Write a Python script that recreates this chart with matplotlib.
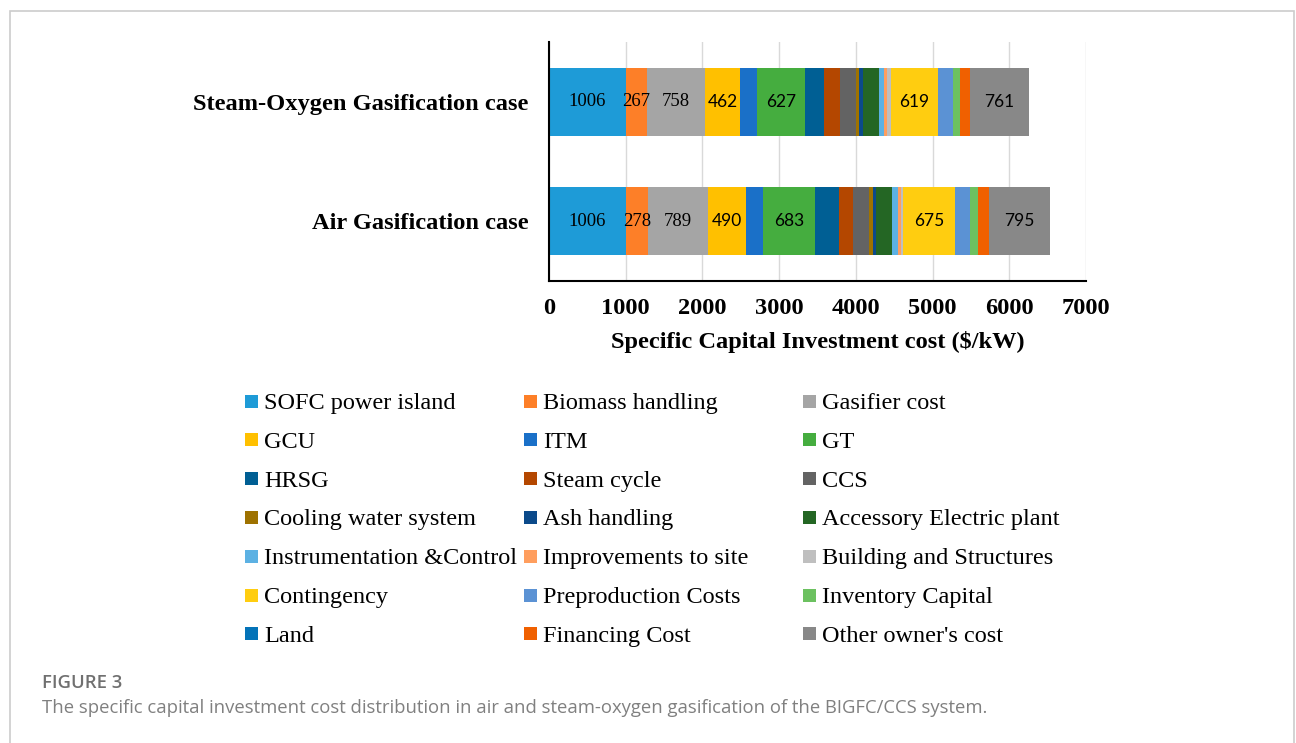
import matplotlib
matplotlib.use("Agg")
import matplotlib.pyplot as plt
from matplotlib.patches import Rectangle
import numpy as np

# cost components ($/kW)
components = ["SOFC power island", "Biomass handling", "Gasifier cost", "GCU", "ITM", "GT",
              "HRSG", "Steam cycle", "CCS", "Cooling water system", "Ash handling",
              "Accessory Electric plant", "Instrumentation &Control", "Improvements to site",
              "Building and Structures", "Contingency", "Preproduction Costs",
              "Inventory Capital", "Land", "Financing Cost", "Other owner's cost"]
cases = ["Air Gasification case", "Steam-Oxygen Gasification case"]
air = [1006, 278, 789, 490, 222, 683, 309, 183, 209, 52, 39, 209, 78, 39, 35,
       675, 191, 100, 0, 144, 795]
steam = [1006, 267, 758, 462, 222, 627, 239, 209, 213, 43, 43, 209, 74, 39, 43,
         619, 191, 91, 0, 135, 761]
labelled = ["SOFC power island", "Biomass handling", "Gasifier cost", "GCU", "GT",
            "Contingency", "Other owner's cost"]
serif_labelled = ["SOFC power island", "Biomass handling", "Gasifier cost"]

colors = ["#1E9BD7", "#FD7F28", "#A5A5A5", "#FFC000", "#1A70C8", "#45AD3F",
          "#005F94", "#B44700", "#636363", "#9E7200", "#0B4A8A", "#246624",
          "#5CB1E3", "#FF9E5E", "#BFBFBF", "#FFCD10", "#5B92D4", "#6CC160",
          "#0473B8", "#F06000", "#888888"]

SERIF = ["Liberation Serif", "DejaVu Serif"]
SANS = ["Lato", "DejaVu Sans"]
CAPTION = ["Open Sans", "DejaVu Sans"]

W, H = 1296, 743
fig = plt.figure(figsize=(W / 100, H / 100), dpi=100)
ax = fig.add_axes([549 / W, 1 - 281 / H, 537 / W, 239 / H])

vals = np.array([air, steam], dtype=float)
y = np.arange(len(cases))
left = np.zeros(len(cases))
for j, name in enumerate(components):
    ax.barh(y, vals[:, j], left=left, height=0.57, color=colors[j], linewidth=0)
    if name in labelled:
        serif = name in serif_labelled
        for i in range(len(cases)):
            ax.text(left[i] + vals[i, j] / 2, y[i], f"{int(vals[i, j])}",
                    ha="center", va="center", fontsize=13.5 if serif else 12.5,
                    family=SERIF if serif else SANS, color="black")
    left += vals[:, j]

ax.set_xlim(0, 7000)
ax.set_ylim(-0.5, 1.5)
ax.set_xticks(range(0, 7001, 1000))
ax.set_yticks(y)
ax.set_yticklabels(cases)
ax.xaxis.grid(True, color="#D9D9D9", lw=1)
ax.set_axisbelow(True)
for s in ("top", "right"):
    ax.spines[s].set_visible(False)
for s in ("left", "bottom"):
    ax.spines[s].set_linewidth(1.5)
ax.tick_params(axis="both", length=0)
ax.tick_params(axis="x", pad=12)
ax.tick_params(axis="y", pad=15)
for t in ax.get_xticklabels() + ax.get_yticklabels():
    t.set_family(SERIF)
    t.set_fontweight("bold")
    t.set_fontsize(17.6)
ax.set_xlabel("Specific Capital Investment cost ($/kW)", family=SERIF,
              fontweight="bold", fontsize=17.6, labelpad=9)

# legend: 3 columns, row-major like the original
x0, y0, dx, dy = 245, 401, 279, 38.8
sq = 13
for k, name in enumerate(components):
    r, c = divmod(k, 3)
    px = x0 + c * dx
    py = y0 + r * dy
    fig.patches.append(Rectangle((px / W, 1 - (py + sq / 2) / H), sq / W, sq / H,
                                 transform=fig.transFigure, color=colors[k], lw=0))
    fig.text((px + 19) / W, 1 - py / H, name, family=SERIF, fontsize=17.5,
             ha="left", va="center_baseline")

# page frame and caption
fig.patches.append(Rectangle((10 / W, -0.05), 1284 / W, 1.05 - 11 / H,
                             transform=fig.transFigure, fill=False,
                             edgecolor="#CCCCCC", lw=1.2))
fig.text(42 / W, 1 - 683 / H, "FIGURE 3", family=CAPTION,
         fontsize=13.3, fontweight="semibold", color="#707070", va="center")
fig.text(42 / W, 1 - 708 / H,
         "The specific capital investment cost distribution in air and steam-oxygen "
         "gasification of the BIGFC/CCS system.",
         family=CAPTION, fontsize=13.3, color="#808080", va="center")

fig.savefig("out.png", dpi=100)
